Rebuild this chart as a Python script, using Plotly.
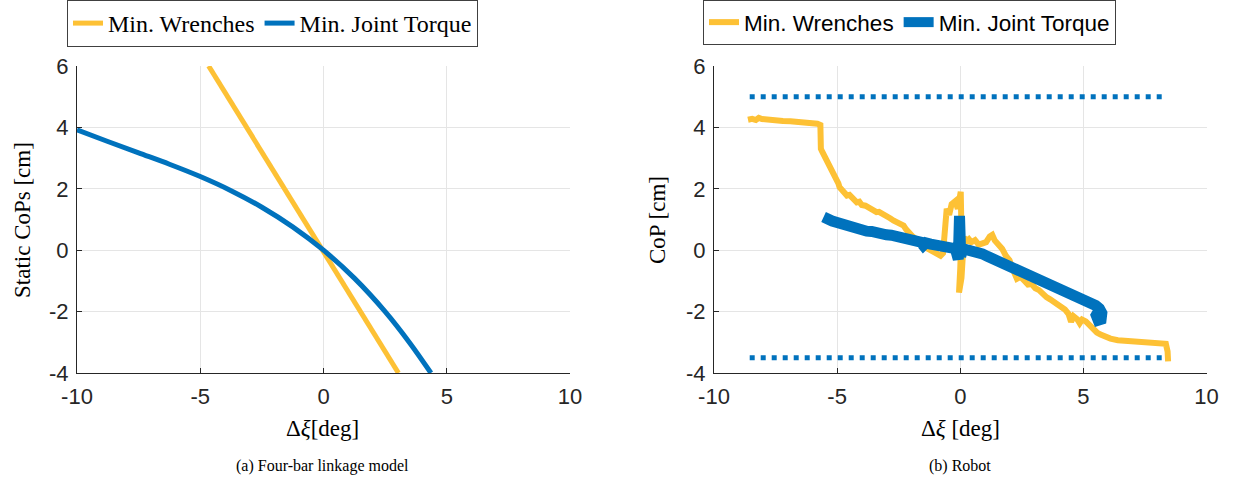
import plotly.graph_objects as go

# ---------------- data ----------------
# (a) Four-bar linkage model
left_wrench_x = [-4.66, 3.04]
left_wrench_y = [6.0, -4.0]
left_torque_x = [-10.0, -8.75, -7.5, -6.25, -5.0, -3.75, -2.5, -1.25, 0.0, 1.25, 2.5, 3.5, 4.36]
left_torque_y = [3.92, 3.54, 3.17, 2.80, 2.40, 1.94, 1.40, 0.76, 0.0, -0.91, -2.0, -3.02, -4.0]

# (b) Robot
right_wrench_x = [-8.62, -8.45, -8.3, -8.18, -8.05, -7.8, -7.5, -7.2, -6.9, -6.6, -6.3, -6.0, -5.8, -5.68,
                  -5.68, -5.66, -5.6, -5.5, -5.45, -5.35, -5.3, -5.2, -5.15, -5.05, -4.95, -4.9, -4.8, -4.7,
                  -4.6, -4.5, -4.4, -4.3, -4.2, -4.1, -4.0, -3.85, -3.7, -3.55, -3.4, -3.3, -3.15, -3.0,
                  -2.85, -2.7, -2.55, -2.4, -2.3, -2.2, -2.1, -1.95, -1.8, -1.65, -1.5, -1.4, -1.25, -1.1,
                  -0.95, -0.8, -0.7, -0.6, -0.55, -0.45, -0.35, -0.2, -0.1, 0.02, 0.05, 0.0, -0.05, 0.05,
                  0.1, 0.15, 0.25, 0.35, 0.45, 0.6, 0.75, 0.9, 1.05, 1.2, 1.3, 1.4, 1.55, 1.7, 1.85, 2.0,
                  2.1, 2.2, 2.3, 2.45, 2.6, 2.75, 2.9, 3.05, 3.2, 3.35, 3.5, 3.65, 3.8, 3.95, 4.1, 4.25,
                  4.4, 4.5, 4.6, 4.75, 4.85, 4.95, 5.1, 5.25, 5.4, 5.55, 5.7, 5.9, 6.1, 6.4, 6.8, 7.2,
                  7.6, 8.0, 8.35, 8.42, 8.44]
right_wrench_y = [4.25, 4.28, 4.24, 4.31, 4.27, 4.24, 4.22, 4.21, 4.2, 4.19, 4.17, 4.15, 4.12, 4.08,
                  3.7, 3.3, 3.2, 3.05, 2.92, 2.85, 2.72, 2.58, 2.55, 2.38, 2.18, 2.05, 1.97, 1.88,
                  1.78, 1.8, 1.7, 1.64, 1.56, 1.58, 1.47, 1.45, 1.36, 1.32, 1.24, 1.25, 1.16, 1.1,
                  1.04, 0.96, 0.9, 0.8, 0.8, 0.68, 0.58, 0.46, 0.36, 0.24, 0.17, 0.08, 0.02, -0.06,
                  -0.13, -0.18, -0.1, 0.9, 1.35, 1.15, 1.5, 1.6, 1.35, 1.9, 0.6, -0.6, -1.38, -0.9,
                  -0.2, 0.42, 0.3, 0.36, 0.26, 0.33, 0.18, 0.22, 0.26, 0.45, 0.5, 0.32, 0.2, 0.05, -0.18, -0.33,
                  -0.55, -0.75, -0.93, -0.86, -1.0, -1.12, -1.1, -1.24, -1.3, -1.43, -1.53, -1.6, -1.68, -1.76, -1.84, -1.93,
                  -2.08, -2.33, -2.15, -2.25, -2.38, -2.26, -2.32, -2.45, -2.56, -2.68, -2.75, -2.82, -2.88, -2.93, -2.96, -2.99,
                  -3.01, -3.03, -3.05, -3.3, -3.62]
right_torque_x = [-5.55, -5.4, -5.2, -5.0, -4.8, -4.6, -4.4, -4.2, -4.0, -3.8, -3.6, -3.4, -3.2, -3.0,
                  -2.8, -2.6, -2.4, -2.2, -2.0, -1.8, -1.6, -1.5, -1.4, -1.2, -1.0, -0.8, -0.6, -0.4,
                  -0.2, -0.08, -0.05, -0.03, 0.0, 0.02, 0.1, 0.3, 0.5, 0.7, 0.9, 1.1, 1.3, 1.5,
                  1.7, 1.9, 2.1, 2.3, 2.5, 2.7, 2.9, 3.1, 3.3, 3.5, 3.7, 3.9, 4.1, 4.3,
                  4.5, 4.7, 4.9, 5.1, 5.3, 5.5, 5.65, 5.75, 5.72, 5.6, 5.52, 5.62]
right_torque_y = [1.08, 1.0, 0.95, 0.9, 0.84, 0.8, 0.77, 0.7, 0.69, 0.62, 0.61, 0.55, 0.55, 0.5,
                  0.49, 0.45, 0.43, 0.38, 0.37, 0.31, 0.26, 0.16, 0.24, 0.2, 0.16, 0.13, 0.08, 0.08,
                  0.05, -0.3, 0.4, 1.12, 0.5, -0.2, 0.05, 0.02, 0.0, -0.07, -0.12, -0.2, -0.27, -0.32,
                  -0.4, -0.47, -0.54, -0.6, -0.68, -0.76, -0.82, -0.9, -0.98, -1.05, -1.12, -1.2, -1.28, -1.35,
                  -1.45, -1.52, -1.6, -1.66, -1.73, -1.8, -1.9, -2.05, -2.25, -2.28, -2.12, -1.98]
bound_x = [-8.55, 8.3]
upper_bound_y = [5.0, 5.0]
lower_bound_y = [-3.5, -3.5]

x_ticks = [-10, -5, 0, 5, 10]
x_ticktext = ["-10", "-5", "0", "5", "10"]
y_ticks = [-4, -2, 0, 2, 4, 6]
y_ticktext = ["-4", "-2", "0", "2", "4", "6"]

YELLOW = "#FDC135"
BLUE = "#0072BD"
W, H = 1233, 484

fig = go.Figure()
fig.add_trace(go.Scatter(x=left_wrench_x, y=left_wrench_y, mode="lines", name="Min. Wrenches",
                         line=dict(color=YELLOW, width=5), xaxis="x", yaxis="y", legend="legend"))
fig.add_trace(go.Scatter(x=left_torque_x, y=left_torque_y, mode="lines", name="Min. Joint Torque",
                         line=dict(color=BLUE, width=5, shape="spline", smoothing=1.0),
                         xaxis="x", yaxis="y", legend="legend"))
fig.add_trace(go.Scatter(x=right_wrench_x, y=right_wrench_y, mode="lines", name="Min. Wrenches",
                         line=dict(color=YELLOW, width=6), xaxis="x2", yaxis="y2", legend="legend2"))
fig.add_trace(go.Scatter(x=right_torque_x, y=right_torque_y, mode="lines", name="Min. Joint Torque",
                         line=dict(color=BLUE, width=11), xaxis="x2", yaxis="y2", legend="legend2"))
for by in (upper_bound_y, lower_bound_y):
    fig.add_trace(go.Scatter(x=bound_x, y=by, mode="lines", showlegend=False,
                             line=dict(color=BLUE, width=5, dash="5px,6px"), xaxis="x2", yaxis="y2"))

tickfont = dict(family="Liberation Sans, Arial, sans-serif", size=22, color="#262626")
axcommon = dict(showgrid=True, gridcolor="#e5e5e5", gridwidth=1, zeroline=False,
                showline=True, linecolor="#262626", linewidth=1, ticks="inside", ticklen=5,
                tickcolor="#262626", tickfont=tickfont, mirror=False)
xcommon = dict(range=[-10, 10], tickvals=x_ticks, ticktext=x_ticktext, ticklabelstandoff=4, **axcommon)
ycommon = dict(range=[-4, 6], tickvals=y_ticks, ticktext=y_ticktext, ticklabelstandoff=3, **axcommon)
fig.update_layout(
    width=W, height=H, margin=dict(l=0, r=0, t=0, b=0, autoexpand=False),
    paper_bgcolor="white", plot_bgcolor="white",
    xaxis=dict(domain=[77/W, 570/W], anchor="y", **xcommon),
    yaxis=dict(domain=[1-373/H, 1-66/H], anchor="x", **ycommon),
    xaxis2=dict(domain=[714/W, 1206.5/W], anchor="y2", **xcommon),
    yaxis2=dict(domain=[1-373/H, 1-66/H], anchor="x2", **ycommon),
    legend=dict(orientation="h", x=67/W, y=1, xanchor="left", yanchor="top",
                bordercolor="#404040", borderwidth=1, bgcolor="white", itemwidth=30,
                font=dict(family="Liberation Serif, Times New Roman, serif", size=24, color="black"),
                tracegroupgap=0),
    legend2=dict(orientation="h", x=703/W, y=1, xanchor="left", yanchor="top",
                 bordercolor="#404040", borderwidth=1, bgcolor="white", itemwidth=30,
                 font=dict(family="Liberation Sans, Arial, sans-serif", size=22.5, color="black"),
                 tracegroupgap=0),
    showlegend=True,
)

serif = "Liberation Serif, Times New Roman, serif"
ann = [
    dict(text="Δ<i>ξ</i>[deg]", x=323/W, y=1-428/H, size=23),
    dict(text="Δ<i>ξ</i> [deg]", x=960/W, y=1-428/H, size=23),
    dict(text="(a) Four-bar linkage model", x=323/W, y=1-466/H, size=16),
    dict(text="(b) Robot", x=960/W, y=1-466/H, size=16),
]
for a in ann:
    fig.add_annotation(text=a["text"], x=a["x"], y=a["y"], xref="paper", yref="paper",
                       showarrow=False, xanchor="center", yanchor="middle",
                       font=dict(family=serif, size=a["size"], color="black"))
fig.add_annotation(text="Static CoPs [cm]", x=22/W, y=1-220/H, xref="paper", yref="paper",
                   showarrow=False, textangle=-90, xanchor="center", yanchor="middle",
                   font=dict(family=serif, size=23, color="black"))
fig.add_annotation(text="CoP [cm]", x=657/W, y=1-220/H, xref="paper", yref="paper",
                   showarrow=False, textangle=-90, xanchor="center", yanchor="middle",
                   font=dict(family=serif, size=23, color="black"))

fig.write_html("out.html")
